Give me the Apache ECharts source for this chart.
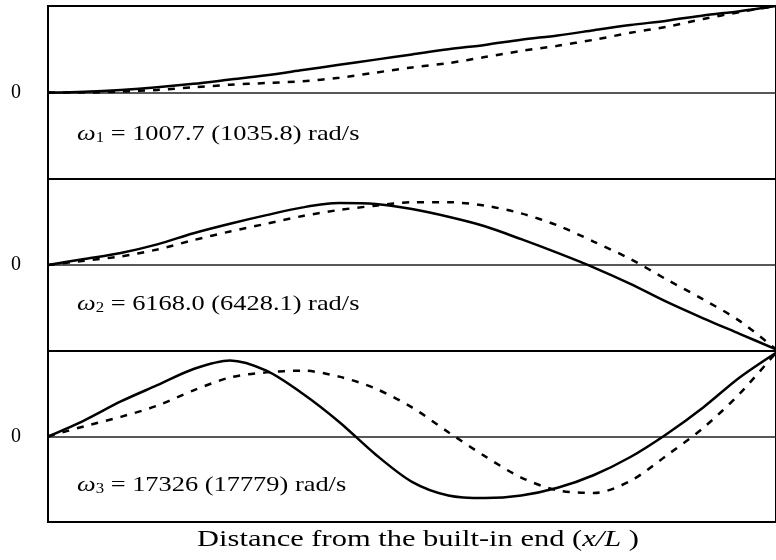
<!DOCTYPE html>
<html>
<head>
<meta charset="utf-8">
<script src="https://cdn.jsdelivr.net/npm/echarts@6/dist/echarts.min.js"></script>
<style>
  html, body { margin: 0; padding: 0; background: #fff; }
  #chart { width: 776px; height: 560px; }
</style>
</head>
<body>
<div id="chart"></div>
<script>
// x/L positions
const xs = [0, 0.05, 0.1, 0.15, 0.2, 0.25, 0.3, 0.35, 0.4, 0.45, 0.5,
            0.55, 0.6, 0.65, 0.7, 0.75, 0.8, 0.85, 0.9, 0.95, 1]

// mode 1 (solid / dashed)
const mode1Solid = [0, 0.01, 0.03, 0.06, 0.10, 0.15, 0.20, 0.26, 0.32, 0.38, 0.44,
                    0.50, 0.55, 0.61, 0.66, 0.72, 0.78, 0.83, 0.89, 0.94, 1.0]
const mode1Dash = [0, 0, 0.01, 0.03, 0.06, 0.09, 0.11, 0.13, 0.17, 0.23, 0.29,
                   0.34, 0.41, 0.48, 0.54, 0.61, 0.69, 0.76, 0.85, 0.93, 1.0]

// mode 2
const mode2Solid = [0, 0.07, 0.14, 0.24, 0.37, 0.48, 0.58, 0.67, 0.72, 0.71, 0.65,
                    0.56, 0.45, 0.30, 0.14, -0.03, -0.22, -0.43, -0.62, -0.80, -0.98]
const mode2Dash = [0, 0.05, 0.10, 0.18, 0.29, 0.39, 0.48, 0.57, 0.64, 0.69, 0.73,
                   0.73, 0.69, 0.60, 0.46, 0.27, 0.07, -0.17, -0.40, -0.65, -0.98]

// mode 3
const mode3Solid = [0, 0.19, 0.41, 0.60, 0.79, 0.89, 0.77, 0.50, 0.17, -0.21, -0.53,
                    -0.69, -0.72, -0.69, -0.60, -0.45, -0.24, 0.03, 0.34, 0.69, 0.98]
const mode3Dash = [0, 0.12, 0.23, 0.36, 0.54, 0.69, 0.75, 0.77, 0.70, 0.56, 0.34,
                   0.05, -0.23, -0.48, -0.63, -0.66, -0.52, -0.22, 0.10, 0.50, 0.98]

const labels = [
  {sub: '1', text: ' = 1007.7 (1035.8) rad/s'},
  {sub: '2', text: ' = 6168.0 (6428.1) rad/s'},
  {sub: '3', text: ' = 17326 (17779) rad/s'}
]

const serif = '"Liberation Serif", "DejaVu Serif", serif'
const pair = (arr) => xs.map((x, i) => [x, arr[i]])

const grids = [
  {left: 48, right: 0, top: 6, height: 173},
  {left: 48, right: 0, top: 179, height: 172},
  {left: 48, right: 0, top: 351, height: 171}
].map(g => Object.assign(g, {show: true, borderColor: '#000', borderWidth: 2}))

const xAxes = [0, 1, 2].map(i => ({
  gridIndex: i, type: 'value', min: 0, max: 1,
  axisLine: {show: true, onZero: true, lineStyle: {color: '#222', width: 1.5}},
  axisTick: {show: false}, axisLabel: {show: false}, splitLine: {show: false}
}))

const yAxes = [0, 1, 2].map(i => ({
  gridIndex: i, type: 'value', min: -1, max: 1, interval: 1,
  axisLine: {show: false}, axisTick: {show: false}, splitLine: {show: false},
  axisLabel: {
    margin: 27, color: '#000', fontFamily: serif, fontSize: 20,
    formatter: v => (v === 0 ? '0' : '')
  }
}))

const data = [[mode1Solid, mode1Dash], [mode2Solid, mode2Dash], [mode3Solid, mode3Dash]]
const series = []
data.forEach((d, i) => {
  series.push({
    type: 'line', xAxisIndex: i, yAxisIndex: i, data: pair(d[0]),
    smooth: 0.3, symbol: 'none',
    lineStyle: {color: '#000', width: 2.5}
  })
  series.push({
    type: 'line', xAxisIndex: i, yAxisIndex: i, data: pair(d[1]),
    smooth: 0.3, symbol: 'none',
    lineStyle: {color: '#000', width: 2.5, type: [7, 8]}
  })
})

// the original figure's text is stretched horizontally
const labelY = [134, 304, 485]
const graphics = labels.map((l, i) => ({
  type: 'text', x: 77, y: labelY[i], scaleX: 1.2,
  style: {
    text: '{w|ω}{s|' + l.sub + '}{n|' + l.text + '}',
    verticalAlign: 'middle',
    rich: {
      w: {fontFamily: serif, fontSize: 22, fontStyle: 'italic', fill: '#000'},
      s: {fontFamily: serif, fontSize: 14, fill: '#000', padding: [9, 0, 0, 0]},
      n: {fontFamily: serif, fontSize: 22, fill: '#000'}
    }
  }
}))
graphics.push({
  type: 'text', x: 418, y: 540, scaleX: 1.27,
  style: {
    text: '{n|Distance from the built-in end (}{i|x/L}{n| )}',
    align: 'center', verticalAlign: 'middle',
    rich: {
      n: {fontFamily: serif, fontSize: 24, fill: '#000'},
      i: {fontFamily: serif, fontSize: 24, fontStyle: 'italic', fill: '#000'}
    }
  }
})

const chart = echarts.init(document.getElementById('chart'))
chart.setOption({
  animation: false,
  grid: grids,
  xAxis: xAxes,
  yAxis: yAxes,
  series: series,
  graphic: graphics
})
</script>
</body>
</html>
